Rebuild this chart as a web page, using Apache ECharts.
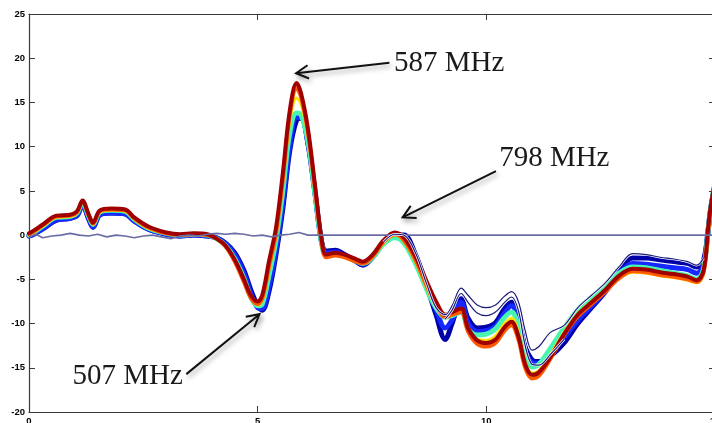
<!DOCTYPE html>
<html><head><meta charset="utf-8">
<script src="https://cdn.jsdelivr.net/npm/echarts@6/dist/echarts.min.js"></script>
<style>html,body{margin:0;padding:0;background:#fff}#c{width:712px;height:423px}</style>
</head><body><div id="c"></div><script>
// x positions (shared by all band curves)
var X = [0,0.1,0.3,0.6,0.9,1.05,1.17,1.3,1.4,1.55,1.8,2.1,2.3,2.6,3.0,3.3,3.6,3.9,4.1,4.3,4.5,4.7,4.85,5.0,5.1,5.25,5.4,5.55,5.7,5.85,5.95,6.1,6.25,6.4,6.5,6.7,6.9,7.1,7.3,7.5,7.75,8.0,8.2,8.45,8.7,8.9,9.1,9.25,9.45,9.6,9.8,10.0,10.2,10.4,10.55,10.7,10.85,11.0,11.15,11.4,11.7,12.0,12.3,12.6,12.9,13.2,13.5,13.8,14.1,14.4,14.6,14.75,14.85,14.9,15.0];
var BLUE_A = [-0.1,0.1,0.7,1.7,1.9,2.2,3.4,1.9,0.9,2.3,2.5,2.4,1.6,0.7,0.1,-0.1,0.0,-0.1,-0.3,-0.9,-2.0,-4.0,-6.2,-8.0,-8.5,-6.3,-2.2,3.0,9.5,13.0,13.2,10.4,5.0,-0.8,-1.8,-1.7,-2.2,-2.8,-3.4,-2.6,-0.9,0.0,0.0,-2.2,-5.8,-9.0,-11.8,-10.0,-7.2,-9.4,-10.5,-10.4,-9.9,-8.3,-7.6,-9.2,-12.6,-14.1,-14.3,-13.7,-12.2,-10.0,-8.2,-6.4,-4.0,-2.6,-2.6,-2.8,-3.0,-3.2,-3.6,-2.8,0.6,2.8,5.8];
var BLUE_B = [-0.1,0.1,0.7,1.7,1.9,2.2,3.4,1.9,0.9,2.3,2.5,2.4,1.6,0.7,0.1,-0.1,0.0,-0.1,-0.3,-1.0,-2.2,-4.3,-6.6,-8.2,-8.3,-5.8,-1.8,3.5,10.0,13.3,13.3,10.3,4.8,-0.9,-2.0,-1.9,-2.3,-2.8,-3.3,-2.6,-0.9,0.0,-0.3,-2.6,-5.9,-8.4,-10.5,-9.6,-7.6,-9.9,-10.9,-10.8,-10.3,-8.8,-8.0,-9.6,-13.0,-14.4,-14.5,-13.4,-11.6,-9.6,-8.0,-6.4,-4.4,-3.2,-3.3,-3.5,-3.7,-3.9,-4.3,-3.3,0.5,2.7,5.7];
var CYAN = [0.0,0.3,1.0,2.0,2.1,2.5,3.7,2.2,1.2,2.6,2.8,2.7,1.8,0.8,0.2,0.0,0.1,0.0,-0.4,-1.2,-2.7,-4.9,-7.0,-8.0,-7.8,-4.5,-0.6,5.0,11.5,13.8,13.6,10.6,4.8,-1.0,-2.3,-2.1,-2.4,-2.8,-3.2,-2.6,-1.0,-0.3,-0.9,-3.2,-6.2,-8.2,-9.3,-9.1,-8.7,-10.6,-11.3,-11.2,-10.6,-9.3,-8.7,-10.3,-13.7,-14.9,-14.6,-12.8,-10.5,-8.4,-7.0,-5.7,-4.3,-3.6,-3.7,-4.0,-4.3,-4.6,-5.0,-3.8,0.6,2.8,5.8];
var YELLOW = [0.0,0.3,1.0,2.0,2.1,2.5,3.7,2.2,1.2,2.6,2.8,2.7,1.8,0.8,0.2,0.0,0.1,0.0,-0.4,-1.2,-2.8,-5.0,-7.0,-7.9,-7.4,-3.8,0.0,6.0,12.8,15.5,14.8,11.2,5.2,-0.8,-2.4,-2.2,-2.5,-2.9,-3.2,-2.5,-0.9,0.0,-0.7,-3.0,-6.0,-8.0,-9.2,-9.0,-8.6,-10.8,-11.8,-11.9,-11.4,-10.0,-9.4,-11.0,-14.4,-15.6,-15.3,-13.5,-11.0,-8.9,-7.5,-6.2,-4.9,-4.2,-4.3,-4.6,-4.8,-5.1,-5.4,-4.4,0.2,2.4,5.4];
var ORANGE = [0.1,0.4,1.1,2.1,2.2,2.6,3.8,2.3,1.3,2.7,2.9,2.8,1.9,0.9,0.2,0.0,0.1,0.0,-0.4,-1.3,-3.0,-5.3,-7.1,-7.8,-7.2,-3.5,0.2,6.3,13.5,16.6,15.6,11.6,5.4,-0.9,-2.5,-2.3,-2.5,-2.9,-3.2,-2.5,-0.8,0.1,-0.6,-2.8,-5.8,-7.9,-9.3,-9.0,-8.7,-10.9,-12.3,-12.6,-12.2,-10.8,-10.2,-11.8,-15.0,-16.2,-15.9,-14.0,-11.3,-9.2,-7.8,-6.4,-4.9,-4.1,-4.2,-4.5,-4.7,-5.0,-5.3,-4.2,0.4,2.6,5.6];
var DARKRED = [0.2,0.5,1.2,2.2,2.3,2.7,3.9,2.4,1.4,2.8,3.0,2.9,2.0,1.0,0.3,0.1,0.2,0.1,-0.4,-1.2,-2.8,-5.0,-6.8,-7.5,-6.8,-2.9,0.8,7.0,14.0,17.2,16.0,12.0,5.8,-0.5,-2.2,-2.0,-2.2,-2.6,-3.0,-2.3,-0.6,0.3,-0.3,-2.4,-5.3,-7.5,-9.0,-8.7,-8.3,-10.5,-11.9,-12.2,-11.8,-10.4,-9.8,-11.4,-14.6,-15.8,-15.5,-13.8,-11.2,-9.0,-7.6,-6.2,-4.6,-3.8,-3.9,-4.2,-4.4,-4.7,-5.1,-4.0,0.8,3.0,6.0];
var NAVY_1 = [null,null,null,null,null,null,null,null,null,null,null,null,null,null,null,null,null,null,null,null,null,null,null,null,null,null,null,null,null,null,null,null,null,null,null,null,null,null,null,null,-0.8,0.1,0.0,-2.0,-5.6,-8.2,-9.0,-8.0,-6.0,-6.8,-7.9,-8.2,-7.9,-6.9,-6.4,-7.5,-10.8,-13.0,-12.6,-11.0,-10.2,-8.2,-6.8,-5.4,-3.6,-2.1,-2.2,-2.5,-2.7,-3.0,-3.4,-2.6,null,null,null];
var NAVY_2 = [null,null,null,null,null,null,null,null,null,null,null,null,null,null,null,null,null,null,null,null,null,null,null,null,null,null,null,null,null,null,null,null,null,null,null,null,null,null,null,null,null,null,null,null,null,null,-9.5,-8.5,-6.6,-7.6,-8.8,-9.1,-8.7,-7.6,-7.0,-8.5,-12.5,-14.6,-14.7,-13.5,-11.8,null,null,null,null,null,null,null,null,null,null,null,null,null,null];
// reference (noise) trace
var NOISE_X = [0,0.15,0.3,0.5,0.7,0.9,1.1,1.3,1.5,1.7,1.9,2.1,2.3,2.5,2.7,2.9,3.1,3.3,3.5,3.7,3.9,4.1,4.3,4.5,4.7,4.9,5.1,5.3,5.5,5.7,5.9,6.1,6.3,6.6,7.0,15.0];
var NOISE_Y = [-0.2,0.1,-0.3,-0.1,0.0,0.2,0.0,-0.1,0.1,-0.2,0.0,-0.1,-0.3,-0.1,0.0,-0.2,-0.4,-0.1,0.0,-0.1,0.1,0.2,0.1,0.2,0.1,-0.1,0.0,-0.2,0.0,0.1,0.3,0.0,0.0,0.0,0.0,0.0];
// axis ticks
var X_MIN = 0, X_MAX = 15, X_STEP = 5;
var Y_MIN = -20, Y_MAX = 25, Y_STEP = 5;
// annotations (data coordinates)
var ANNOT_TEXT = ['587 MHz', '798 MHz', '507 MHz'];
var ANNOT_TEXT_POS = [[7.98, 19.46], [10.28, 8.71], [0.95, -15.95]];
var ANNOT_TAIL = [[7.88, 19.5], [10.21, 7.24], [3.44, -15.72]];
var ANNOT_TIP = [[5.84, 18.3], [8.17, 2.0], [5.04, -8.94]];

function pairs(xs, ys) { return xs.map(function (x, i) { return [x, ys[i]]; }); }

var chart = echarts.init(document.getElementById('c'), null, {renderer: 'canvas'});

function band(name, ys, color, width) {
  return {name: name, type: 'line', data: pairs(X, ys), showSymbol: false, symbol: 'none',
    smooth: 0.35, connectNulls: false, animation: false, silent: true,
    lineStyle: {color: color, width: width, cap: 'round', join: 'round'}};
}

var axisCommonX = function (pos, showLabel) {
  return {type: 'value', position: pos, min: X_MIN, max: X_MAX, interval: X_STEP,
    axisLine: {show: true, onZero: false, lineStyle: {color: '#3a3a3a', width: 1.2}},
    axisTick: {show: true, inside: true, length: 6, lineStyle: {color: '#3a3a3a', width: 1}},
    axisLabel: {show: showLabel, fontSize: 9.5, fontWeight: 'bold', color: '#000', margin: 4, fontFamily: 'Liberation Sans'},
    splitLine: {show: false}};
};
var axisCommonY = function (pos, showLabel) {
  return {type: 'value', position: pos, min: Y_MIN, max: Y_MAX, interval: Y_STEP,
    axisLine: {show: true, onZero: false, lineStyle: {color: '#3a3a3a', width: 1.2}},
    axisTick: {show: true, inside: true, length: 6, lineStyle: {color: '#3a3a3a', width: 1}},
    axisLabel: {show: showLabel, fontSize: 9.5, fontWeight: 'bold', color: '#000', margin: 4, fontFamily: 'Liberation Sans'},
    splitLine: {show: false}};
};

var series = [
  band('b1', BLUE_A, '#0000a8', 5),
  band('b2', BLUE_B, '#1428ff', 5),
  band('c', CYAN, '#48f5b0', 5),
  band('y', YELLOW, '#ffe600', 3),
  band('o', ORANGE, '#ff5a00', 4),
  band('r', DARKRED, '#a00000', 4),
  {name: 'ref', type: 'line', data: pairs(NOISE_X, NOISE_Y), showSymbol: false, symbol: 'none', smooth: false,
   animation: false, silent: true, lineStyle: {color: '#6c6ca4', width: 1.6}},
  {name: 'n1h', type: 'line', data: pairs(X, NAVY_1), showSymbol: false, symbol: 'none', smooth: 0.35, animation: false, silent: true, lineStyle: {color: '#ffffff', width: 2.6}},
  {name: 'n1', type: 'line', data: pairs(X, NAVY_1), showSymbol: false, symbol: 'none', smooth: 0.35, animation: false, silent: true, lineStyle: {color: '#1c1c7a', width: 1.2}},
  {name: 'n2h', type: 'line', data: pairs(X, NAVY_2), showSymbol: false, symbol: 'none', smooth: 0.35, animation: false, silent: true, lineStyle: {color: '#ffffff', width: 2.6}},
  {name: 'n2', type: 'line', data: pairs(X, NAVY_2), showSymbol: false, symbol: 'none', smooth: 0.35, animation: false, silent: true, lineStyle: {color: '#1c1c7a', width: 1.2}}
];

chart.setOption({
  backgroundColor: '#ffffff',
  animation: false,
  grid: {left: 29, top: 14, right: -3, bottom: 11, containLabel: false, outerBoundsMode: 'none'},
  xAxis: [axisCommonX('bottom', true), axisCommonX('top', false)],
  yAxis: [axisCommonY('left', true), axisCommonY('right', false)],
  series: series
});

// annotations: arrows + labels, positioned through the chart's coordinate system
var gfx = [];
var shadow = {shadowBlur: 5, shadowColor: 'rgba(0,0,0,0.35)', shadowOffsetX: 2, shadowOffsetY: 3};
for (var i = 0; i < ANNOT_TEXT.length; i++) {
  var t = chart.convertToPixel({gridIndex: 0}, ANNOT_TAIL[i]);
  var p = chart.convertToPixel({gridIndex: 0}, ANNOT_TIP[i]);
  var s = chart.convertToPixel({gridIndex: 0}, ANNOT_TEXT_POS[i]);
  var ang = Math.atan2(t[1] - p[1], t[0] - p[0]);
  var L = 14, a = 0.5;
  var h1 = [p[0] + L * Math.cos(ang + a), p[1] + L * Math.sin(ang + a)];
  var h2 = [p[0] + L * Math.cos(ang - a), p[1] + L * Math.sin(ang - a)];
  gfx.push({type: 'line', z: 100, shape: {x1: t[0], y1: t[1], x2: p[0], y2: p[1]},
    style: Object.assign({stroke: '#111', lineWidth: 2}, shadow)});
  gfx.push({type: 'polyline', z: 100, shape: {points: [h1, p, h2]},
    style: Object.assign({stroke: '#111', lineWidth: 2, fill: null}, shadow)});
  gfx.push({type: 'text', z: 101, style: {x: s[0], y: s[1], text: ANNOT_TEXT[i],
    fontFamily: 'Liberation Serif', fontSize: 29, fill: '#1a1a1a', align: 'left', verticalAlign: 'middle'}});
}
chart.setOption({graphic: gfx});
</script></body></html>
